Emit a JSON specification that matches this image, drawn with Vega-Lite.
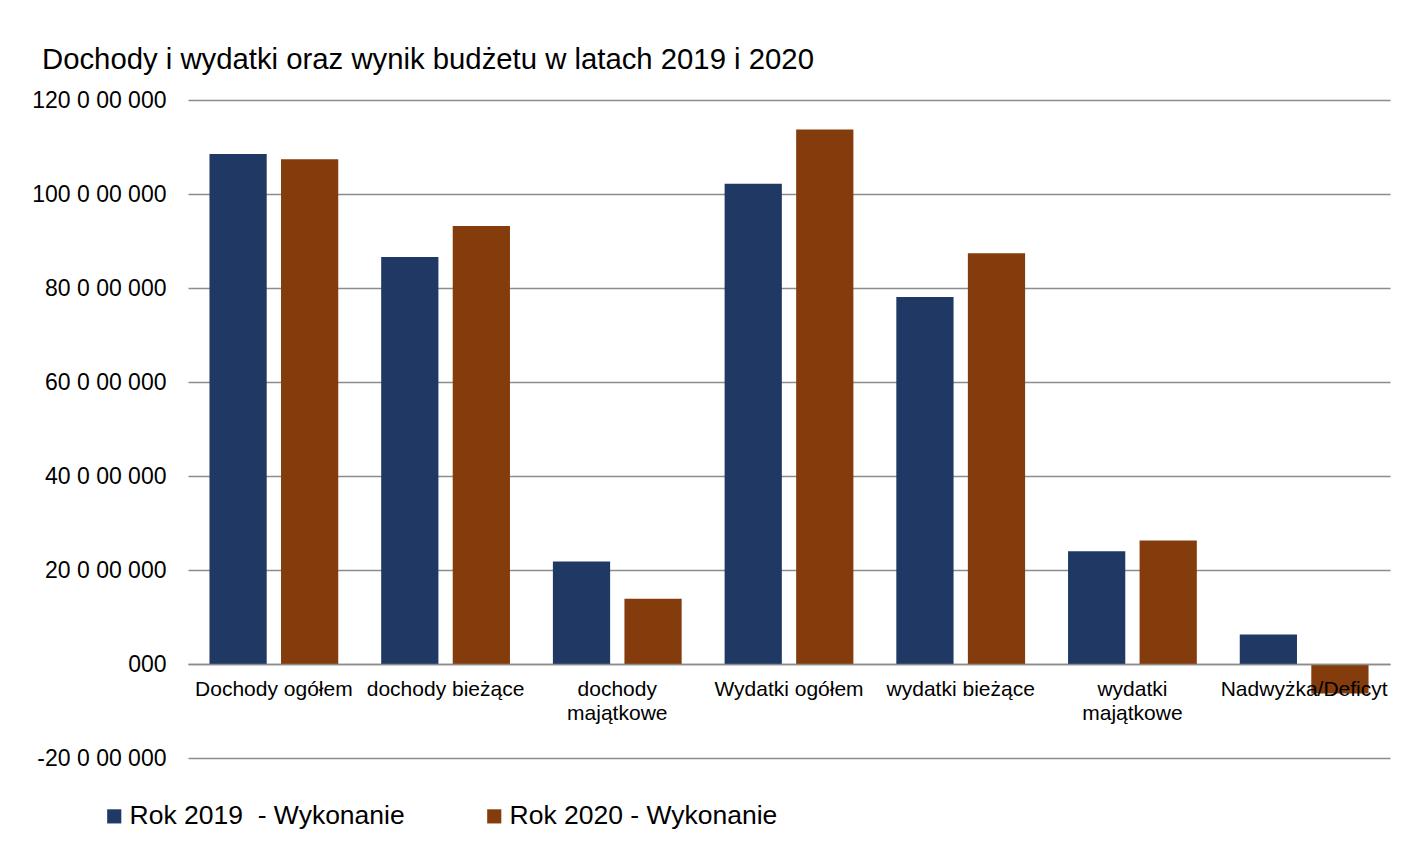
{
  "$schema": "https://vega.github.io/schema/vega-lite/v6.json",
  "width": 1202,
  "height": 658,
  "autosize": {"type": "none"},
  "padding": {"left": 188, "top": 100, "right": 20, "bottom": 83},
  "background": "white",
  "title": {
    "text": "Dochody i wydatki oraz wynik budżetu w latach 2019 i 2020",
    "anchor": "start",
    "frame": "group",
    "dx": -146,
    "offset": 14,
    "font": "Liberation Sans",
    "fontSize": 29.3,
    "fontWeight": "normal",
    "color": "#000000"
  },
  "data": {
    "values": [
      {"cat": "Dochody ogółem", "rok": "Rok 2019\u00a0 - Wykonanie", "v": 108500000},
      {"cat": "Dochody ogółem", "rok": "Rok 2020 - Wykonanie", "v": 107400000},
      {"cat": "dochody bieżące", "rok": "Rok 2019\u00a0 - Wykonanie", "v": 86600000},
      {"cat": "dochody bieżące", "rok": "Rok 2020 - Wykonanie", "v": 93200000},
      {"cat": "dochody majątkowe", "rok": "Rok 2019\u00a0 - Wykonanie", "v": 21800000},
      {"cat": "dochody majątkowe", "rok": "Rok 2020 - Wykonanie", "v": 13900000},
      {"cat": "Wydatki ogółem", "rok": "Rok 2019\u00a0 - Wykonanie", "v": 102200000},
      {"cat": "Wydatki ogółem", "rok": "Rok 2020 - Wykonanie", "v": 113700000},
      {"cat": "wydatki bieżące", "rok": "Rok 2019\u00a0 - Wykonanie", "v": 78100000},
      {"cat": "wydatki bieżące", "rok": "Rok 2020 - Wykonanie", "v": 87400000},
      {"cat": "wydatki majątkowe", "rok": "Rok 2019\u00a0 - Wykonanie", "v": 24000000},
      {"cat": "wydatki majątkowe", "rok": "Rok 2020 - Wykonanie", "v": 26300000},
      {"cat": "Nadwyżka/Deficyt", "rok": "Rok 2019\u00a0 - Wykonanie", "v": 6300000},
      {"cat": "Nadwyżka/Deficyt", "rok": "Rok 2020 - Wykonanie", "v": -6300000}
    ]
  },
  "mark": {"type": "bar"},
  "encoding": {
    "x": {
      "field": "cat",
      "type": "nominal",
      "sort": null,
      "scale": {"paddingInner": 0.25, "paddingOuter": 0.125},
      "axis": {
        "title": null,
        "orient": "bottom",
        "offset": -94,
        "labelAngle": 0,
        "labelFont": "Liberation Sans",
        "labelFontSize": 21,
        "labelColor": "#000000",
        "labelPadding": 14,
        "labelBaseline": "top",
        "labelLineHeight": 24,
        "labelLimit": 0,
        "labelOverlap": false,
        "labelExpr": "datum.label == 'dochody majątkowe' ? ['dochody','majątkowe'] : datum.label == 'wydatki majątkowe' ? ['wydatki','majątkowe'] : datum.label",
        "ticks": false,
        "domain": true,
        "domainColor": "#8c8c8c",
        "domainWidth": 1.5,
        "zindex": 1
      }
    },
    "xOffset": {
      "field": "rok",
      "type": "nominal",
      "sort": null,
      "scale": {"paddingInner": 0.2}
    },
    "y": {
      "field": "v",
      "type": "quantitative",
      "scale": {"domain": [-20000000, 120000000], "nice": false, "zero": false},
      "axis": {
        "title": null,
        "values": [-20000000, 0, 20000000, 40000000, 60000000, 80000000, 100000000, 120000000],
        "labelExpr": "datum.value == 0 ? '000' : (datum.value / 1000000) + ' 0 00 000'",
        "labelFont": "Liberation Sans",
        "labelFontSize": 23,
        "labelColor": "#000000",
        "labelPadding": 22,
        "labelLimit": 0,
        "ticks": false,
        "domain": false,
        "grid": true,
        "gridColor": "#8c8c8c",
        "gridWidth": 1.3
      }
    },
    "color": {
      "field": "rok",
      "type": "nominal",
      "sort": null,
      "scale": {"range": ["#203864", "#843c0c"]},
      "legend": {
        "title": null,
        "orient": "none",
        "direction": "horizontal",
        "legendX": -87,
        "legendY": 703,
        "symbolType": "square",
        "symbolSize": 200,
        "symbolStrokeWidth": 0,
        "labelFont": "Liberation Sans",
        "labelFontSize": 26.5,
        "labelColor": "#000000",
        "labelOffset": 2,
        "labelLimit": 0,
        "columnPadding": 76
      }
    }
  },
  "config": {
    "view": {"stroke": null}
  }
}
